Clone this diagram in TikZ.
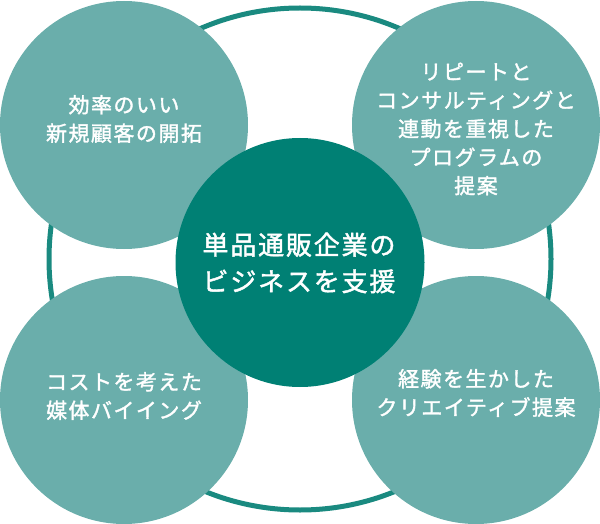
\documentclass[tikz,border=0pt]{standalone}
\usepackage{fontspec}
\newfontfamily\jp{Noto Sans CJK JP}[FakeBold=1.6,LetterSpace=7]
\definecolor{lightteal}{HTML}{6AAEAB}
\definecolor{darkteal}{HTML}{008074}
\definecolor{ringteal}{HTML}{1A8A80}
\tikzset{
  outerc/.style={circle,fill=lightteal,minimum size=248pt,inner sep=0pt},
  centerc/.style={circle,fill=darkteal,minimum size=249pt,inner sep=0pt},
  outertxt/.style={text=white,align=center,font={\jp\fontsize{21}{28.5}\selectfont}},
  centertxt/.style={text=white,align=center,font={\jp\fontsize{26}{36.5}\selectfont}},
}
\begin{document}
\begin{tikzpicture}[x=1pt,y=-1pt]
\useasboundingbox (0,0) rectangle (600,524);
\node[circle,draw=ringteal,line width=5pt,minimum size=502pt,inner sep=0pt] (ring) at (300,259) {};
\node[outerc] (tl) at (124,125) {};
\node[outerc] (tr) at (476,125) {};
\node[outerc] (bl) at (124,400) {};
\node[outerc] (br) at (476,400) {};
\node[centerc] (c) at (300,262.5) {};
\node[outertxt] (tltxt) at (124,119) {効率のいい\\新規顧客の開拓};
\node[outertxt] (trtxt) at (476,129) {リピートと\\コンサルティングと\\連動を重視した\\プログラムの\\提案};
\node[outertxt] (bltxt) at (124,396) {コストを考えた\\媒体バイイング};
\node[outertxt] (brtxt) at (476,393) {経験を生かした\\クリエイティブ提案};
\node[centertxt] (ctxt) at (299,263) {単品通販企業の\\ビジネスを支援};
\end{tikzpicture}
\end{document}
